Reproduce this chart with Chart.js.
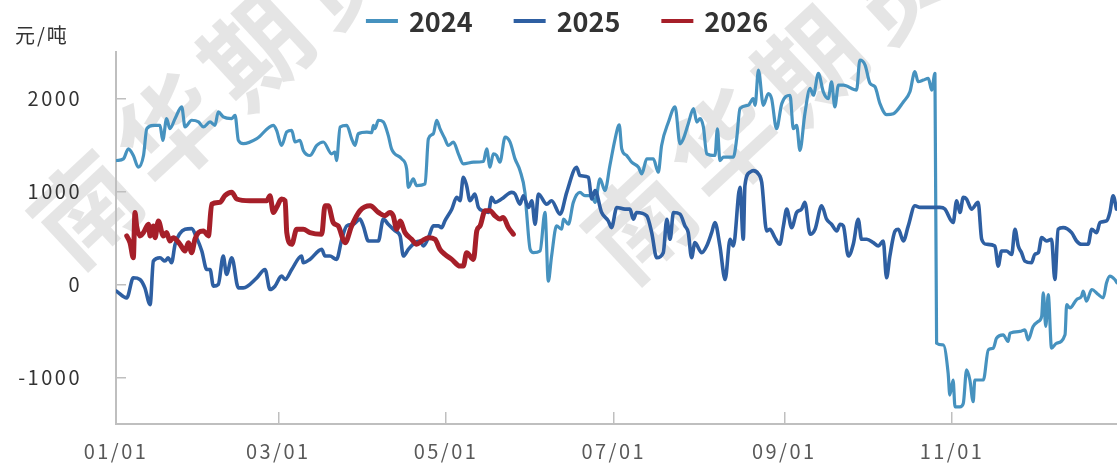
<!DOCTYPE html>
<html lang="zh-CN">
<head>
<meta charset="UTF-8">
<title>价差季节性</title>
<script src="https://cdn.jsdelivr.net/npm/chart.js@4.4.1/dist/chart.umd.min.js"></script>
<style>
  html, body { margin: 0; padding: 0; background: #fff; }
  #wrap { width: 1117px; height: 466px; }
</style>
</head>
<body>
<div id="wrap"><canvas id="spreadChart" width="1117" height="466"></canvas></div>
<script>
const FONT = '"Noto Sans CJK SC", "Noto Sans", sans-serif';

// 图例 / 颜色
const seriesNames = ['2024', '2025', '2026'];
const seriesColors = ['#4692bf', '#2e5fa2', '#a61f29'];

// 横轴: 一年中的第几天, 只标单数月的月初
const monthTicks = [0, 59, 120, 181, 243, 304];
const monthLabels = ['01/01', '03/01', '05/01', '07/01', '09/01', '11/01'];
const yTicks = [-1000, 0, 1000, 2000];

// 2024
const days2024 = [0.2, 2.7, 4.5, 6.3, 8.1, 10.0, 11.2, 13.6, 16.0, 17.0, 18.4, 19.6, 21.5, 23.9, 25.1, 27.5, 30.0, 31.8, 34.2, 36.0, 37.2, 39.0, 42.1, 43.3, 44.5, 46.3, 51.2, 57.2, 58.4, 60.2, 62.1, 63.9, 65.1, 66.9, 68.1, 70.5, 73.0, 75.4,
  78.4, 79.6, 80.2, 81.5, 83.9, 85.7, 86.9, 88.1, 91.2, 93.0, 93.6, 94.2, 95.4, 97.2, 99.0, 100.2, 103.9, 105.7, 106.3, 108.1, 109.3, 112.4, 113.6, 115.4, 116.6, 117.8, 119.6, 120.8, 122.7, 124.5, 126.3, 130.0, 133.6, 134.8, 136.0, 137.2, 138.4, 139.6, 141.5, 143.3, 145.1, 146.9, 148.7, 149.3,
  150.6, 151.8, 154.2, 156.0, 157.2, 158.4, 160.2, 162.1, 162.7, 164.5, 166.3, 168.7, 170.5, 173.0, 174.2, 176.0, 177.8, 179.6, 181.5, 183.0, 183.9, 185.7, 187.5, 190.0, 191.2, 193.0, 195.4, 197.2, 198.4, 200.9, 203.3, 205.1, 206.3, 208.1, 210.0, 211.2, 212.4, 213.6, 214.8, 217.8, 218.7, 219.6, 220.9, 224.5, 225.7, 226.9,
  229.9, 231.7, 232.4, 233.6, 235.4, 237.2, 238.4, 240.2, 242.1, 245.1, 246.3, 247.5, 248.7, 250.5, 252.4, 253.6, 255.4, 257.2, 259.0, 260.2, 261.4, 262.7, 264.5, 269.3, 270.5, 272.4, 274.2, 276.0, 277.8, 280.2, 282.7, 286.3, 288.7, 290.5, 291.7, 293.6, 295.4, 296.6, 297.8, 298.4, 300.8,
  302.6, 303.2, 304.4, 305.1, 306.9, 308.1, 309.3, 310.5, 311.7, 312.3, 315.4, 317.2, 319.0, 320.2, 322.6, 324.4, 325.1, 328.7, 330.5, 331.7, 333.5, 335.4, 336.6, 337.2, 338.1, 339.0, 340.2, 342.0, 345.1, 345.7, 346.9, 349.3, 351.1, 351.7, 352.9, 354.8, 357.2, 359.0, 360.2, 361.4, 363.2, 364.0];
const vals2024 = [1333, 1351, 1459, 1387, 1261, 1387, 1676, 1712, 1712, 1550, 1784, 1676, 1784, 1910, 1694, 1766, 1748, 1694, 1748, 1712, 1856, 1802, 1784, 1820, 1550, 1514, 1568, 1712, 1658, 1495, 1640, 1658, 1532, 1550, 1441, 1387, 1495, 1532,
  1405, 1423, 1333, 1694, 1712, 1567, 1495, 1621, 1639, 1632, 1712, 1676, 1766, 1748, 1603, 1459, 1351, 1243, 1045, 1135, 1063, 1081, 1567, 1621, 1766, 1676, 1567, 1495, 1531, 1405, 1297, 1315, 1322, 1459, 1261, 1405, 1387, 1315, 1585, 1531, 1351, 1225, 990, 775,
  378, 342, 360, 775, 36, 306, 630, 594, 703, 648, 883, 990, 955, 955, 883, 1135, 1009, 1279, 1567, 1718, 1459, 1387, 1315, 1261, 1189, 1351, 1351, 1207, 1495, 1747, 1910, 1513, 1567, 1729, 1892, 1747, 1783, 1693, 1405, 1387, 1675, 1333, 1369, 1369, 1567, 1892,
  1927, 1999, 1927, 2306, 1927, 2053, 1999, 1675, 1945, 2035, 1675, 1711, 1441, 1837, 2108, 2035, 2270, 2072, 1999, 2180, 1909, 2144, 2144, 2090, 2414, 2360, 2162, 2126, 1945, 1827, 1837, 1963, 2072, 2288, 2180, 2198, 2216, 2090, 2270, -631, -649,
  -955, -1189, -1027, -1315, -1315, -1279, -919, -1027, -1261, -1027, -1027, -703, -685, -577, -541, -613, -523, -505, -487, -595, -451, -397, -343, -90, -451, -108, -685, -631, -541, -216, -252, -162, -126, -72, -180, -54, -108, -144, 18, 90, 54, 18];

// 2025
const days2025 = [0.2, 3.9, 6.3, 8.7, 10.5, 12.4, 13.6, 16.0, 17.8, 19.0, 20.2, 21.5, 25.1, 27.5, 29.3, 31.2, 33.0, 34.2, 35.4, 37.2, 39.0, 40.2, 42.1, 44.5, 46.3, 51.2, 54.2, 56.0, 57.8, 60.2, 61.5, 63.9, 67.5, 68.1, 70.5, 74.8, 76.0,
  77.8, 80.2, 82.1, 83.9, 86.3, 88.7, 89.9, 91.8, 95.4, 97.2, 99.0, 101.5, 103.3, 104.5, 106.3, 108.7, 110.5, 111.8, 113.6, 115.4, 117.2, 118.4, 119.6, 122.1, 123.9, 125.1, 126.3, 127.5, 128.7, 130.5, 131.8, 133.6, 135.4, 136.6, 137.8, 140.2, 143.9, 145.1, 146.9, 148.1, 150.0, 151.2, 152.4, 153.6,
  156.6, 158.4, 161.5, 163.9, 167.5, 168.7, 171.8, 173.0, 174.2, 176.6, 179.0, 180.2, 182.1, 185.1, 186.9, 188.1, 189.3, 193.0, 194.8, 196.6, 199.0, 200.3, 201.5, 202.7, 205.1, 206.9, 208.1, 209.3, 210.5, 213.0, 214.8, 216.6, 217.8, 219.6, 221.5, 223.3, 224.5, 226.9, 228.1,
  228.7, 230.5, 231.7, 233.6, 234.8, 236.6, 237.8, 239.6, 241.4, 242.7, 243.9, 245.7, 247.5, 249.3, 250.5, 252.4, 254.2, 256.6, 258.4, 260.2, 262.1, 263.3, 264.5, 266.3, 268.1, 269.9, 271.1, 273.0, 275.4, 277.2, 279.0, 280.2, 281.4, 283.3, 284.5, 286.3, 288.1, 290.5, 292.4, 299.6,
  301.4, 304.4, 305.7, 306.9, 308.1, 309.3, 311.1, 313.5, 314.8, 316.6, 319.6, 320.8, 322.0, 323.8, 325.7, 326.9, 328.1, 329.3, 330.5, 332.9, 334.1, 335.4, 336.6, 338.4, 340.2, 341.4, 342.6, 344.4, 347.5, 349.3, 351.1, 353.5, 354.8, 356.6, 357.8, 360.2, 361.4, 362.6, 363.8];
const vals2025 = [-72, -144, 72, 54, -36, -216, 252, 288, 252, 288, 234, 432, 594, 601, 504, 360, 162, 162, -18, 0, 306, 108, 288, -36, -36, 72, 162, -54, -18, 90, 54, 162, 306, 234, 270, 378, 306,
  306, 270, 486, 630, 648, 703, 630, 468, 468, 703, 648, 576, 522, 306, 378, 450, 468, 414, 504, 630, 630, 612, 684, 810, 937, 901, 1153, 1063, 901, 973, 828, 792, 774, 937, 883, 919, 991, 973, 864, 955, 828, 901, 648, 973,
  864, 901, 756, 991, 1261, 1171, 1153, 919, 1009, 774, 684, 612, 828, 810, 810, 702, 774, 738, 558, 288, 342, 702, 486, 774, 756, 630, 558, 288, 450, 342, 414, 558, 666, 414, 54, 486, 414, 1045, 486,
  1063, 1207, 1225, 1189, 1099, 576, 594, 504, 432, 630, 810, 612, 774, 810, 883, 540, 594, 847, 702, 648, 576, 648, 630, 306, 432, 702, 486, 486, 450, 414, 468, 72, 306, 576, 594, 468, 630, 847, 829, 829,
  811, 666, 901, 774, 937, 919, 811, 883, 486, 432, 414, 198, 360, 360, 324, 594, 414, 342, 252, 234, 324, 342, 504, 468, 486, 54, 594, 612, 558, 468, 432, 432, 594, 558, 666, 684, 774, 955, 811];

// 2026
const days2026 = [3.9, 5.1, 6.3, 6.9, 7.5, 8.7, 10.0, 11.8, 12.4, 13.6, 14.2, 15.4, 17.2, 18.4, 19.6, 20.8, 23.3, 25.1, 26.3, 27.5, 28.7, 30.0, 31.8, 33.6, 34.8, 37.8, 39.6, 42.1, 43.9, 48.7, 54.8, 56.0, 57.2, 58.4, 60.2, 61.5, 62.1, 63.9, 65.7, 68.1, 70.5, 74.8, 76.0,
  77.2, 79.0, 80.8, 83.3, 85.7, 88.7, 92.4, 95.4, 97.8, 99.6, 100.8, 102.1, 103.3, 105.1, 107.5, 109.3, 111.2, 113.6, 116.0, 117.8, 119.6, 122.1, 125.1, 126.3, 127.5, 130.0, 131.2, 132.4, 134.2, 136.0, 137.8, 139.6, 140.8, 142.7, 144.5];
const vals2026 = [522, 450, 288, 775, 630, 522, 558, 648, 522, 630, 504, 684, 522, 558, 468, 504, 432, 360, 450, 342, 486, 558, 576, 522, 865, 883, 955, 991, 919, 901, 901, 955, 774, 829, 919, 901, 558, 432, 594, 594, 558, 540, 847,
  847, 666, 630, 450, 630, 793, 847, 775, 739, 775, 739, 594, 684, 558, 486, 432, 468, 504, 486, 378, 324, 270, 198, 198, 342, 270, 577, 630, 793, 793, 739, 703, 721, 613, 541];

function toPoints(days, vals) {
    return days.map((d, i) => ({ x: d, y: vals[i] }));
}

// 水印 (画在最底层), 之后给坐标轴文字加字距
const watermarkPlugin = {
    id: 'watermark',
    beforeDraw(chart) {
        const ctx = chart.ctx;
        ctx.save();
        ctx.font = 'bold 104px ' + FONT;
        ctx.letterSpacing = '12px';
        ctx.fillStyle = 'rgba(0, 0, 0, 0.1)';
        ctx.textAlign = 'center';
        ctx.textBaseline = 'middle';
        [[213, 90], [767, 105], [1320, 122]].forEach(([cx, cy]) => {
            ctx.save();
            ctx.translate(cx, cy);
            ctx.rotate(-43 * Math.PI / 180);
            ctx.fillText('南华期货', 6, 0);
            ctx.restore();
        });
        ctx.restore();
        ctx.letterSpacing = '2.5px';
    }
};

// 图例 + 单位
const legendPlugin = {
    id: 'topLegend',
    afterDraw(chart) {
        const ctx = chart.ctx;
        const lineW = 32, gapText = 11, gapItem = 41, y = 21;
        ctx.save();
        ctx.letterSpacing = '0px';
        ctx.font = 'bold 27px ' + FONT;
        ctx.textBaseline = 'middle';
        ctx.textAlign = 'left';
        const widths = chart.data.datasets.map(ds => lineW + gapText + ctx.measureText(ds.label).width);
        const total = widths.reduce((a, b) => a + b, 0) + gapItem * (widths.length - 1);
        let x = 567 - total / 2;
        chart.data.datasets.forEach((ds, i) => {
            ctx.fillStyle = ds.borderColor;
            ctx.fillRect(x, y - 2, lineW, 4);
            ctx.fillStyle = '#333';
            ctx.fillText(ds.label, x + lineW + gapText, y + 1);
            x += widths[i] + gapItem;
        });
        ctx.letterSpacing = '2px';
        ctx.font = '20px ' + FONT;
        ctx.fillStyle = '#333';
        ctx.fillText('元/吨', 15, 35);
        ctx.restore();
        ctx.letterSpacing = '0px';
    }
};

const ctx = document.getElementById('spreadChart');

new Chart(ctx, {
    type: 'line',
    data: {
        datasets: [
            { label: seriesNames[0], data: toPoints(days2024, vals2024), borderColor: seriesColors[0], borderWidth: 3.2, order: 3 },
            { label: seriesNames[1], data: toPoints(days2025, vals2025), borderColor: seriesColors[1], borderWidth: 3.6, order: 2 },
            { label: seriesNames[2], data: toPoints(days2026, vals2026), borderColor: seriesColors[2], borderWidth: 5, order: 1 }
        ]
    },
    options: {
        responsive: false,
        animation: false,
        layout: { padding: { top: 52, left: 0, right: 0, bottom: 0 } },
        elements: {
            point: { radius: 0, hoverRadius: 0 },
            line: { cubicInterpolationMode: 'monotone', borderJoinStyle: 'round', borderCapStyle: 'round', fill: false }
        },
        plugins: {
            legend: { display: false },
            tooltip: { enabled: false }
        },
        scales: {
            x: {
                type: 'linear',
                min: 0,
                max: 364,
                afterBuildTicks: scale => { scale.ticks = monthTicks.map(v => ({ value: v })); },
                afterFit: scale => { scale.height = 42; scale.paddingLeft = 0; scale.paddingRight = 0; },
                ticks: {
                    autoSkip: false,
                    maxRotation: 0,
                    padding: 27,
                    color: '#595959',
                    font: { family: FONT, size: 20 },
                    callback: value => monthLabels[monthTicks.indexOf(value)]
                },
                grid: { drawOnChartArea: false, tickLength: -12, color: '#bfbfbf', lineWidth: 1.5 },
                border: { color: '#bfbfbf', width: 2 }
            },
            y: {
                min: -1500,
                max: 2500,
                afterBuildTicks: scale => { scale.ticks = yTicks.map(v => ({ value: v })); },
                afterFit: scale => { scale.width = 116; scale.paddingTop = 0; scale.paddingBottom = 0; },
                ticks: {
                    padding: 44,
                    color: '#333',
                    font: { family: FONT, size: 20 },
                    callback: value => String(value)
                },
                grid: { drawOnChartArea: false, tickLength: -10, color: '#bfbfbf', lineWidth: 1.5 },
                border: { color: '#bfbfbf', width: 2 }
            }
        }
    },
    plugins: [watermarkPlugin, legendPlugin]
});
</script>
</body>
</html>
